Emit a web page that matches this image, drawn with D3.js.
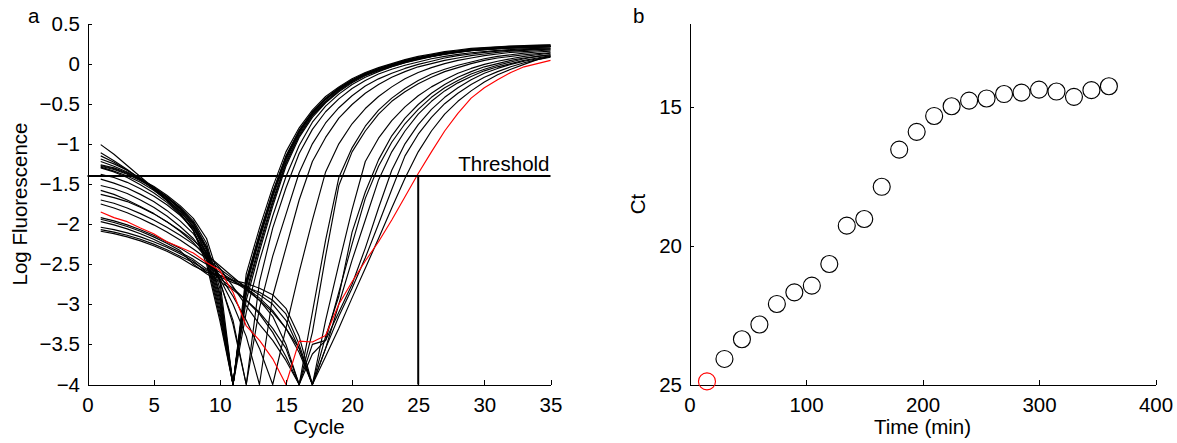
<!DOCTYPE html>
<html><head><meta charset="utf-8">
<script src="https://cdn.jsdelivr.net/npm/d3@7"></script>
<style>body{margin:0;background:#fff} text{font-family:"Liberation Sans",Arial,Helvetica,sans-serif}</style>
</head><body><svg id="c" width="1177" height="443"></svg>
<script>
// ---------- DATA ----------
const cycles = [1,2,3,4,5,6,7,8,9,10,11,12,13,14,15,16,17,18,19,20,21,22,23,24,25,26,27,28,29,30,31,32,33,34,35];
const curve01 = [-1.26,-1.30,-1.36,-1.44,-1.53,-1.64,-1.77,-1.93,-2.18,-2.70,-4,-2.62,-2.05,-1.54,-1.10,-0.80,-0.58,-0.41,-0.29,-0.19,-0.11,-0.05,0.00,0.05,0.09,0.12,0.15,0.17,0.19,0.20,0.21,0.22,0.225,0.23,0.235];
const curve02 = [-1.28,-1.32,-1.38,-1.46,-1.55,-1.66,-1.79,-1.96,-2.24,-2.80,-4,-2.70,-2.12,-1.60,-1.15,-0.83,-0.60,-0.43,-0.30,-0.20,-0.12,-0.06,-0.01,0.04,0.08,0.11,0.14,0.16,0.18,0.195,0.205,0.215,0.22,0.225,0.23];
const curve03 = [-1.22,-1.28,-1.35,-1.44,-1.54,-1.66,-1.80,-1.98,-2.28,-2.86,-4,-2.71,-2.13,-1.61,-1.16,-0.84,-0.61,-0.44,-0.31,-0.21,-0.13,-0.07,-0.02,0.03,0.07,0.10,0.13,0.15,0.165,0.175,0.185,0.195,0.20,0.205,0.21];
const curve04 = [-1.27,-1.31,-1.37,-1.45,-1.55,-1.67,-1.81,-1.99,-2.30,-2.90,-4,-2.73,-2.15,-1.62,-1.17,-0.84,-0.61,-0.44,-0.31,-0.21,-0.125,-0.065,-0.015,0.035,0.075,0.105,0.135,0.155,0.175,0.185,0.195,0.205,0.21,0.215,0.22];
const curve05 = [-1.19,-1.25,-1.33,-1.43,-1.54,-1.67,-1.82,-2.01,-2.33,-2.95,-4,-2.75,-2.17,-1.64,-1.18,-0.85,-0.62,-0.445,-0.31,-0.21,-0.13,-0.07,-0.02,0.03,0.07,0.10,0.13,0.15,0.17,0.18,0.19,0.20,0.205,0.21,0.215];
const curve06 = [-1.29,-1.34,-1.40,-1.48,-1.58,-1.70,-1.84,-2.03,-2.36,-3.00,-4,-2.78,-2.19,-1.66,-1.20,-0.86,-0.62,-0.45,-0.32,-0.21,-0.13,-0.07,-0.02,0.03,0.07,0.10,0.13,0.15,0.17,0.185,0.195,0.205,0.21,0.215,0.22];
const curve07 = [-1.15,-1.23,-1.33,-1.44,-1.56,-1.69,-1.84,-2.04,-2.38,-3.05,-4,-2.84,-2.25,-1.71,-1.23,-0.88,-0.64,-0.47,-0.33,-0.22,-0.14,-0.08,-0.03,0.02,0.06,0.09,0.12,0.14,0.16,0.175,0.185,0.195,0.20,0.205,0.21];
const curve08 = [-1.30,-1.35,-1.42,-1.51,-1.61,-1.73,-1.88,-2.08,-2.42,-3.10,-4,-2.88,-2.29,-1.74,-1.25,-0.90,-0.65,-0.48,-0.34,-0.23,-0.14,-0.08,-0.03,0.02,0.06,0.09,0.12,0.145,0.165,0.18,0.19,0.20,0.21,0.215,0.22];
const curve09 = [-1.11,-1.21,-1.32,-1.44,-1.57,-1.71,-1.87,-2.08,-2.45,-3.15,-4,-2.95,-2.34,-1.78,-1.28,-0.92,-0.67,-0.49,-0.35,-0.24,-0.15,-0.09,-0.04,0.01,0.05,0.085,0.115,0.14,0.16,0.175,0.185,0.195,0.20,0.205,0.21];
const curve10 = [-1.01,-1.13,-1.27,-1.41,-1.55,-1.69,-1.86,-2.08,-2.50,-3.20,-4,-3.10,-2.46,-1.90,-1.41,-1.02,-0.73,-0.53,-0.38,-0.26,-0.17,-0.10,-0.04,0.01,0.055,0.09,0.12,0.145,0.165,0.18,0.19,0.20,0.205,0.21,0.215];
const curve11 = [-1.38,-1.42,-1.48,-1.56,-1.65,-1.76,-1.89,-2.05,-2.30,-2.70,-3.25,-4,-2.72,-2.05,-1.55,-1.12,-0.82,-0.60,-0.44,-0.31,-0.21,-0.13,-0.07,-0.02,0.02,0.06,0.09,0.115,0.135,0.15,0.165,0.175,0.185,0.19,0.195];
const curve12 = [-1.44,-1.49,-1.55,-1.63,-1.72,-1.83,-1.96,-2.12,-2.36,-2.72,-3.20,-4,-3.05,-2.40,-1.88,-1.36,-1.00,-0.74,-0.55,-0.40,-0.28,-0.19,-0.12,-0.06,-0.01,0.03,0.07,0.10,0.12,0.14,0.155,0.165,0.175,0.18,0.185];
const curve13 = [-1.52,-1.56,-1.62,-1.70,-1.79,-1.90,-2.03,-2.18,-2.40,-2.68,-3.00,-3.40,-4,-2.90,-2.30,-1.70,-1.22,-0.92,-0.68,-0.51,-0.37,-0.26,-0.17,-0.10,-0.04,0.00,0.04,0.07,0.10,0.12,0.14,0.155,0.165,0.175,0.18];
const curve14 = [-1.63,-1.67,-1.72,-1.79,-1.87,-1.97,-2.09,-2.23,-2.42,-2.64,-2.90,-3.20,-3.55,-4,-3.30,-2.60,-1.95,-1.35,-1.00,-0.75,-0.56,-0.41,-0.29,-0.19,-0.11,-0.05,0.00,0.04,0.07,0.10,0.12,0.14,0.15,0.16,0.17];
const curve15 = [-1.58,-1.63,-1.70,-1.78,-1.87,-1.97,-2.08,-2.20,-2.36,-2.55,-2.78,-3.02,-3.25,-3.45,-3.70,-4,-3.10,-2.20,-1.42,-1.05,-0.78,-0.58,-0.43,-0.31,-0.21,-0.13,-0.07,-0.02,0.02,0.06,0.09,0.11,0.13,0.145,0.155];
const curve16 = [-1.70,-1.74,-1.80,-1.87,-1.95,-2.04,-2.14,-2.25,-2.38,-2.52,-2.66,-2.80,-2.95,-3.15,-3.50,-4,-3.35,-2.40,-1.52,-1.10,-0.84,-0.63,-0.47,-0.35,-0.25,-0.17,-0.10,-0.05,0.00,0.04,0.07,0.09,0.11,0.125,0.135];
const curve17 = [-1.75,-1.80,-1.86,-1.93,-2.01,-2.10,-2.20,-2.31,-2.43,-2.56,-2.68,-2.78,-2.88,-3.00,-3.20,-3.55,-4,-3.20,-2.50,-1.82,-1.22,-0.93,-0.71,-0.54,-0.40,-0.29,-0.20,-0.12,-0.06,-0.01,0.03,0.06,0.09,0.11,0.13];
const curve18 = [-1.92,-1.96,-2.01,-2.07,-2.14,-2.22,-2.30,-2.40,-2.50,-2.60,-2.70,-2.80,-2.92,-3.08,-3.30,-3.60,-4,-3.40,-2.90,-2.10,-1.60,-1.20,-0.90,-0.68,-0.51,-0.37,-0.26,-0.17,-0.10,-0.04,0.00,0.04,0.07,0.09,0.11];
const curve19 = [-1.94,-1.98,-2.03,-2.09,-2.16,-2.24,-2.33,-2.50,-2.62,-2.72,-2.82,-2.95,-3.10,-3.30,-3.55,-4,-3.50,-3.45,-2.85,-2.25,-1.68,-1.28,-0.98,-0.75,-0.57,-0.42,-0.30,-0.21,-0.13,-0.07,-0.02,0.02,0.06,0.09,0.11];
const curve20 = [-2.04,-2.07,-2.11,-2.16,-2.22,-2.29,-2.37,-2.46,-2.60,-2.64,-2.70,-2.74,-2.80,-2.88,-3.05,-3.40,-4,-3.55,-3.00,-2.45,-1.95,-1.45,-1.10,-0.84,-0.63,-0.47,-0.34,-0.24,-0.16,-0.09,-0.04,0.00,0.04,0.07,0.10];
const curve21 = [-1.97,-2.01,-2.06,-2.12,-2.19,-2.27,-2.35,-2.44,-2.56,-2.68,-2.80,-2.95,-3.12,-3.35,-3.65,-4,-3.62,-3.45,-3.10,-2.75,-2.30,-1.80,-1.33,-1.00,-0.76,-0.57,-0.42,-0.30,-0.20,-0.12,-0.06,-0.01,0.03,0.06,0.09];
const curve22 = [-2.07,-2.10,-2.14,-2.19,-2.25,-2.32,-2.40,-2.48,-2.58,-2.66,-2.73,-2.79,-2.85,-2.95,-3.12,-3.50,-4,-3.55,-3.15,-2.80,-2.42,-2.00,-1.57,-1.15,-0.88,-0.67,-0.50,-0.37,-0.26,-0.17,-0.10,-0.04,0.01,0.05,0.08];
const curve23 = [-2.09,-2.12,-2.16,-2.21,-2.27,-2.34,-2.42,-2.52,-2.60,-2.64,-2.71,-2.82,-2.95,-3.10,-3.30,-3.55,-4,-3.65,-3.30,-2.92,-2.55,-2.18,-1.80,-1.43,-1.10,-0.84,-0.63,-0.47,-0.34,-0.23,-0.14,-0.07,-0.01,0.05,0.09];
const redCurve = [-1.85,-1.92,-1.97,-2.05,-2.12,-2.22,-2.29,-2.36,-2.48,-2.58,-2.85,-3.27,-3.45,-3.68,-4.00,-3.46,-3.47,-3.39,-3.00,-2.72,-2.46,-2.22,-1.95,-1.66,-1.37,-1.10,-0.84,-0.62,-0.43,-0.30,-0.20,-0.11,-0.04,0.00,0.04];
const blackCurves = [curve01,curve02,curve03,curve04,curve05,curve06,curve07,curve08,curve09,curve10,curve11,curve12,curve13,curve14,curve15,curve16,curve17,curve18,curve19,curve20,curve21,curve22,curve23];
const thresholdValue = -1.4;
const thresholdCycle = 25;
const xTicksA = [0,5,10,15,20,25,30,35];
const yTicksA = [-4,-3.5,-3,-2.5,-2,-1.5,-1,-0.5,0,0.5];

const times = [15,30,45,60,75,90,105,120,135,150,165,180,195,210,225,240,255,270,285,300,315,330,345,360];
const ctValues = [24.89,24.08,23.37,22.84,22.10,21.68,21.44,20.66,19.28,19.04,17.88,16.54,15.90,15.33,14.98,14.78,14.70,14.54,14.49,14.38,14.45,14.64,14.40,14.26];
const xTicksB = [0,100,200,300,400];
const yTicksB = [15,20,25];

// ---------- DRAW ----------
const svg = d3.select('#c');
const FS = 20.5;
const TICK = 4.5;
const fmt = d3.format('~g');

function styleAxis(g){
  g.selectAll('path.domain').attr('stroke','#000').attr('stroke-width',1).attr('shape-rendering','crispEdges');
  g.selectAll('.tick line').attr('stroke','#000').attr('stroke-width',1).attr('shape-rendering','crispEdges');
  g.selectAll('.tick text').attr('fill','#000').style('font-size',FS+'px').style('font-family','"Liberation Sans",Arial,sans-serif');
}

// Panel a
const A = {l:87.5, r:550.5, t:23.5, b:384.5};
const xA = d3.scaleLinear().domain([0,35]).range([A.l, A.r]);
const yA = d3.scaleLinear().domain([-4,0.5]).range([A.b, A.t]);
const gA = svg.append('g');

const line = d3.line().x((d,i)=>xA(cycles[i])).y(d=>yA(d));
gA.selectAll('path.curve').data(blackCurves).enter().append('path')
  .attr('class','curve').attr('d',line).attr('fill','none')
  .attr('stroke','#000').attr('stroke-width',1.15).attr('stroke-linejoin','round');
gA.append('path').attr('d',line(redCurve)).attr('fill','none')
  .attr('stroke','#ff0000').attr('stroke-width',1.15).attr('stroke-linejoin','round');

gA.append('line').attr('x1',xA(0)).attr('x2',xA(35)).attr('y1',yA(thresholdValue)).attr('y2',yA(thresholdValue))
  .attr('stroke','#000').attr('stroke-width',2);
gA.append('line').attr('x1',xA(thresholdCycle)).attr('x2',xA(thresholdCycle)).attr('y1',yA(thresholdValue)).attr('y2',yA(-4))
  .attr('stroke','#000').attr('stroke-width',2);
gA.append('text').attr('x',xA(35)-1).attr('y',yA(thresholdValue)-4.5).attr('text-anchor','end')
  .style('font-size',FS+'px').text('Threshold');

gA.append('g').attr('transform',`translate(0,${A.b})`)
  .call(d3.axisBottom(xA).tickValues(xTicksA).tickFormat(fmt).tickSizeInner(-TICK).tickSizeOuter(0).tickPadding(13))
  .call(styleAxis);
gA.append('g').attr('transform',`translate(${A.l},0)`)
  .call(d3.axisLeft(yA).tickValues(yTicksA).tickFormat(fmt).tickSizeInner(-TICK).tickSizeOuter(0).tickPadding(7.5))
  .call(styleAxis);

gA.append('text').attr('transform',`translate(27,${(A.t+A.b)/2}) rotate(-90)`).attr('text-anchor','middle')
  .style('font-size',FS+'px').text('Log Fluorescence');
gA.append('text').attr('x',(A.l+A.r)/2).attr('y',434).attr('text-anchor','middle')
  .style('font-size',FS+'px').text('Cycle');
gA.append('text').attr('x',28).attr('y',23).style('font-size',FS+'px').text('a');

// Panel b
const B = {l:689.5, r:1155.5, t:23.5, b:384.5};
const xB = d3.scaleLinear().domain([0,400]).range([B.l, B.r]);
const yB = d3.scaleLinear().domain([12,25]).range([B.t, B.b]);
const gB = svg.append('g');

gB.append('g').attr('transform',`translate(0,${B.b})`)
  .call(d3.axisBottom(xB).tickValues(xTicksB).tickFormat(fmt).tickSizeInner(-TICK).tickSizeOuter(0).tickPadding(13))
  .call(styleAxis);
gB.append('g').attr('transform',`translate(${B.l},0)`)
  .call(d3.axisLeft(yB).tickValues(yTicksB).tickFormat(fmt).tickSizeInner(-TICK).tickSizeOuter(0).tickPadding(7.5))
  .call(styleAxis);
gB.selectAll('circle.pt').data(times).enter().append('circle')
  .attr('class','pt').attr('cx',d=>xB(d)).attr('cy',(d,i)=>yB(ctValues[i])).attr('r',8.5)
  .attr('fill','none').attr('stroke',(d,i)=>i===0?'#ff0000':'#000').attr('stroke-width',1.15);

gB.append('text').attr('transform',`translate(645,${(B.t+B.b)/2}) rotate(-90)`).attr('text-anchor','middle')
  .style('font-size',FS+'px').text('Ct');
gB.append('text').attr('x',(B.l+B.r)/2).attr('y',434).attr('text-anchor','middle')
  .style('font-size',FS+'px').text('Time (min)');
gB.append('text').attr('x',633).attr('y',23).style('font-size',FS+'px').text('b');
</script></body></html>
